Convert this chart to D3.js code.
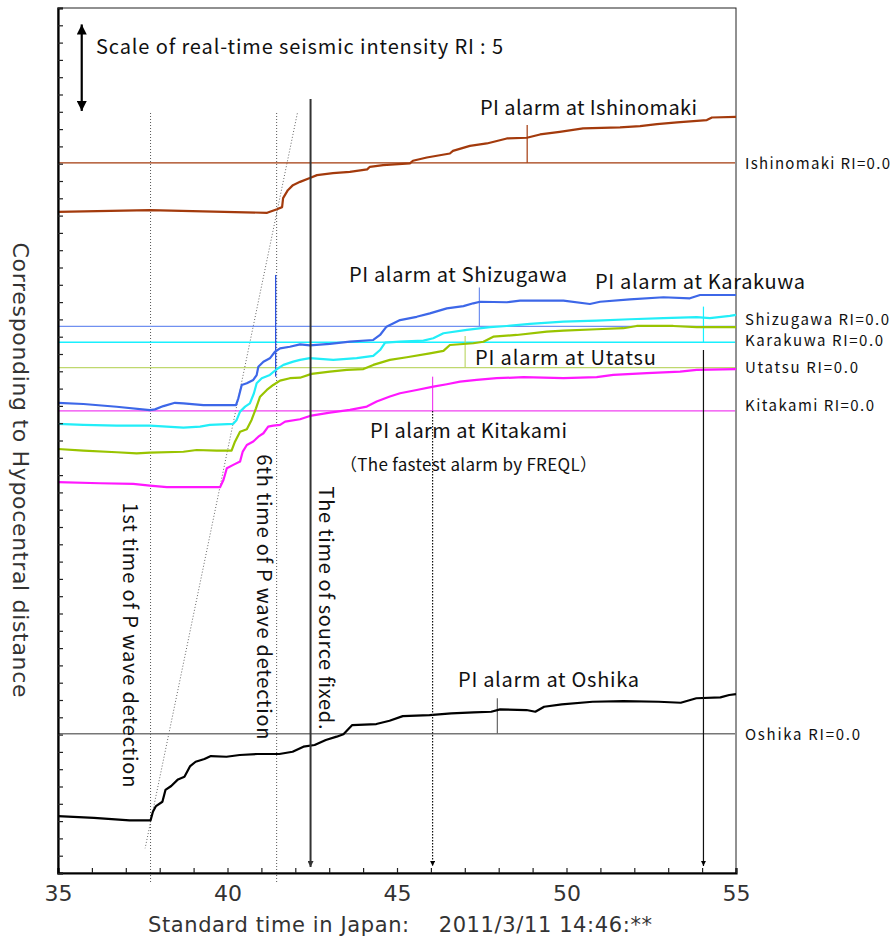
<!DOCTYPE html>
<html>
<head>
<meta charset="utf-8">
<script src="https://cdn.jsdelivr.net/npm/d3@7"></script>
<style>
  body { margin: 0; background: #fff; }
  text { font-family: "Noto Sans CJK JP", "Noto Sans", sans-serif; fill: #111; }
  .geo { font-family: "DejaVu Sans", sans-serif; fill: #333; }
</style>
</head>
<body>
<svg id="chart" width="894" height="941"></svg>
<script>
// stations, stacked by hypocentral distance (axis units = RI)
const stations   = ['Ishinomaki', 'Shizugawa', 'Karakuwa', 'Utatsu', 'Kitakami', 'Oshika'];
const baseLevels = [41.05, 31.6, 30.68, 29.21, 26.71, 8.05];
const alarmTimes = [48.84, 47.43, 54.04, 47.01, 46.05, 47.96];
const alarmTops  = [2.18, 2.25, 2.06, 1.83, 1.98, 2.05];
const curveColors = ['#a33a0c', '#3d67e8', '#22eef8', '#99c400', '#ff18ff', '#000000'];
const baseColors  = ['#a33a0c', '#7090f0', '#18f0ff', '#bfd86e', '#f040f0', '#777777'];

// real-time seismic intensity [time (s), RI]
const ishinomakiRI = [[35,-2.83],[37.71,-2.73],[41.17,-2.89],[41.46,-2.68],[41.61,-2.56],[41.64,-2.04],[41.78,-1.58],[41.93,-1.29],[42.14,-1.1],[42.43,-0.88],[42.64,-0.71],[43.11,-0.6],[43.61,-0.52],[44.12,-0.38],[44.2,-0.23],[44.59,-0.13],[45.38,-0.03],[45.47,0.12],[45.88,0.31],[46.56,0.54],[46.65,0.69],[47.15,0.98],[47.65,1.12],[48.24,1.41],[48.83,1.45],[49.22,1.64],[49.8,1.79],[50.49,1.99],[51.58,2.05],[52.17,2.12],[52.67,2.24],[53.26,2.34],[54.14,2.47],[54.29,2.62],[55,2.66]];
const shizugawaRI = [[35,-4.42],[35.75,-4.49],[36.73,-4.65],[37.71,-4.84],[37.86,-4.8],[38.11,-4.61],[38.45,-4.42],[38.7,-4.45],[39.29,-4.55],[40.25,-4.55],[40.32,-4.16],[40.42,-3.39],[40.57,-3.29],[40.76,-3.1],[40.86,-2.82],[40.91,-2.34],[41.06,-2.05],[41.25,-1.85],[41.4,-1.47],[41.55,-1.27],[41.84,-1.18],[42.14,-1.04],[42.43,-1.1],[43.02,-1.02],[43.61,-0.89],[44.3,-0.79],[44.5,-0.5],[44.69,-0.02],[45.09,0.36],[45.58,0.55],[45.97,0.75],[46.47,1.04],[46.96,1.17],[47.25,1.33],[47.45,1.42],[48.24,1.39],[48.63,1.48],[49.91,1.48],[50.69,1.29],[50.99,1.42],[51.87,1.56],[52.86,1.68],[53.64,1.62],[53.94,1.81],[55,1.81]];
const karakuwaRI = [[35,-4.72],[35.75,-4.78],[36.73,-4.82],[37.71,-4.82],[38.7,-4.94],[39.19,-4.88],[39.48,-4.78],[40.17,-4.72],[40.27,-4.49],[40.37,-4.01],[40.52,-3.72],[40.66,-3.53],[40.78,-2.95],[40.86,-2.37],[41.01,-2.08],[41.25,-1.89],[41.45,-1.56],[41.65,-1.31],[41.94,-1.12],[42.14,-1.02],[42.43,-0.92],[43.12,-1.02],[43.81,-0.92],[44.3,-0.79],[44.5,-0.45],[44.65,-0.02],[45.09,0.03],[45.78,0.09],[46.07,0.23],[46.37,0.52],[47.06,0.71],[47.74,0.87],[48.24,0.94],[48.92,1.06],[49.91,1.19],[50.89,1.25],[51.87,1.33],[52.86,1.39],[53.84,1.45],[54.23,1.39],[54.82,1.52],[55,1.58]];
const utatsuRI = [[35,-4.7],[35.75,-4.8],[36.73,-4.89],[37.32,-4.95],[37.71,-4.91],[38.7,-4.86],[39.09,-4.76],[39.68,-4.8],[40.12,-4.8],[40.22,-4.28],[40.37,-3.7],[40.57,-3.56],[40.71,-3.02],[40.84,-2.35],[40.96,-1.68],[41.16,-1.29],[41.35,-1.0],[41.55,-0.75],[41.84,-0.61],[42.14,-0.58],[42.48,-0.36],[43.02,-0.23],[43.52,-0.13],[44.01,-0.08],[44.3,0.16],[44.79,0.45],[45.29,0.6],[45.97,0.83],[46.37,0.97],[46.56,1.31],[47.25,1.41],[47.55,1.5],[47.84,1.79],[48.53,1.89],[49.42,2.08],[49.91,2.14],[50.89,2.22],[51.68,2.28],[52.07,2.41],[53.15,2.41],[53.84,2.34],[55,2.34]];
const kitakamiRI = [[35,-4.12],[36.24,-4.18],[37.22,-4.22],[37.71,-4.32],[38.21,-4.41],[39.78,-4.41],[39.88,-3.99],[39.98,-3.31],[40.17,-3.12],[40.37,-2.93],[40.45,-2.35],[40.57,-1.97],[40.76,-1.77],[40.91,-1.49],[41.06,-1.29],[41.2,-0.91],[41.35,-0.85],[41.55,-0.81],[41.7,-0.62],[42.14,-0.48],[42.43,-0.29],[43.02,-0.1],[43.61,0.06],[44.11,0.25],[44.4,0.54],[44.79,0.83],[45.09,1.02],[45.58,1.21],[46.07,1.4],[46.47,1.54],[46.86,1.69],[47.35,1.79],[47.94,1.89],[48.73,1.95],[49.91,1.89],[50.89,1.95],[51.38,2.08],[52.37,2.18],[53.35,2.27],[53.84,2.37],[55,2.41]];
const oshikaRI = [[35,-4.76],[36.06,-4.86],[37.11,-5.01],[37.73,-5.01],[37.8,-4.51],[37.89,-4.18],[38.08,-3.93],[38.17,-3.25],[38.34,-3.02],[38.54,-2.64],[38.73,-2.49],[38.9,-1.87],[39.06,-1.62],[39.32,-1.46],[39.51,-1.29],[39.97,-1.33],[40.36,-1.23],[40.88,-1.17],[41.53,-1.17],[41.92,-1.04],[42.24,-0.75],[42.57,-0.65],[42.9,-0.36],[43.22,-0.17],[43.42,-0.03],[43.68,0.5],[44.39,0.56],[44.78,0.75],[45.17,1.02],[45.96,1.08],[46.6,1.18],[47.26,1.24],[47.78,1.27],[48.04,1.41],[48.82,1.37],[49.08,1.27],[49.34,1.56],[49.86,1.7],[50.77,1.85],[51.68,1.89],[52.72,1.85],[53.37,1.79],[53.83,2.05],[54.54,2.1],[54.8,2.24],[55,2.29]];
const series = [ishinomakiRI, shizugawaRI, karakuwaRI, utatsuRI, kitakamiRI, oshikaRI];

// event times
const pWaveTimes = [37.73, 41.45];            // 1st / 6th P wave detection
const pWaveFront = [[42.06, 43.91], [37.57, 1.43]];
const sourceFixedTime = 42.45;
const shizugawaSpike = { t: 41.42, lo: -2.91, hi: 2.97 };

const xTicks = d3.range(35, 56, 1);
const xLabels = [35, 40, 45, 50, 55];

const svg = d3.select('#chart');
const x = d3.scaleLinear().domain([35, 55]).range([58, 736]);
const y = d3.scaleLinear().domain([0, 50]).range([873, 8]);

const defs = svg.append('defs');
function arrowMarker(id, color, w, h) {
  defs.append('marker')
    .attr('id', id)
    .attr('viewBox', '0 0 10 10')
    .attr('refX', 10).attr('refY', 5)
    .attr('markerUnits', 'userSpaceOnUse')
    .attr('markerWidth', w).attr('markerHeight', h)
    .attr('orient', 'auto-start-reverse')
    .append('path').attr('d', 'M0,0 L10,5 L0,10 z').attr('fill', color);
}
arrowMarker('headBig', '#000', 12, 10);
arrowMarker('headDark', '#333', 7, 6);
arrowMarker('headSmall', '#000', 7, 5);

// frame
svg.append('rect')
  .attr('x', x(35)).attr('y', y(50))
  .attr('width', x(55) - x(35)).attr('height', y(0) - y(50))
  .attr('fill', 'none').attr('stroke', '#222').attr('stroke-width', 1);

// reference dotted lines
svg.selectAll('.pwave')
  .data(pWaveTimes).enter().append('line')
  .attr('x1', d => x(d)).attr('x2', d => x(d))
  .attr('y1', y(43.93)).attr('y2', y(0) + 10)
  .attr('stroke', '#555').attr('stroke-width', 1).attr('stroke-dasharray', '1,2');

svg.append('line')
  .attr('x1', x(pWaveFront[0][0])).attr('y1', y(pWaveFront[0][1]))
  .attr('x2', x(pWaveFront[1][0])).attr('y2', y(pWaveFront[1][1]))
  .attr('stroke', '#666').attr('stroke-width', 1).attr('stroke-dasharray', '1,2');

// RI = 0 baselines
svg.selectAll('.base')
  .data(baseLevels).enter().append('line')
  .attr('x1', x(35)).attr('x2', x(55) - 1)
  .attr('y1', d => y(d)).attr('y2', d => y(d))
  .attr('stroke', (d, i) => baseColors[i])
  .attr('stroke-width', (d, i) => i === 5 ? 1.5 : 1.3);

// alarm markers
svg.selectAll('.alarm')
  .data(stations).enter().append('line')
  .attr('x1', (d, i) => x(alarmTimes[i])).attr('x2', (d, i) => x(alarmTimes[i]))
  .attr('y1', (d, i) => y(baseLevels[i])).attr('y2', (d, i) => y(baseLevels[i] + alarmTops[i]))
  .attr('stroke', (d, i) => i === 5 ? '#666' : baseColors[i])
  .attr('stroke-width', 1.2);

svg.append('line')
  .attr('x1', x(shizugawaSpike.t)).attr('x2', x(shizugawaSpike.t))
  .attr('y1', y(baseLevels[1] + shizugawaSpike.lo)).attr('y2', y(baseLevels[1] + shizugawaSpike.hi))
  .attr('stroke', '#2f55e0').attr('stroke-width', 1.3);

// RI curves
const line = d3.line();
svg.selectAll('.curve')
  .data(series).enter().append('path')
  .attr('d', (s, i) => line(s.map(p => [x(p[0]), y(baseLevels[i] + p[1])])))
  .attr('fill', 'none')
  .attr('stroke', (d, i) => curveColors[i])
  .attr('stroke-width', 2.2)
  .attr('stroke-linejoin', 'round');

// downward arrows
svg.append('line')
  .attr('x1', x(sourceFixedTime)).attr('x2', x(sourceFixedTime))
  .attr('y1', y(44.74)).attr('y2', y(0) - 6)
  .attr('stroke', '#333').attr('stroke-width', 2)
  .attr('marker-end', 'url(#headDark)');

svg.append('line')
  .attr('x1', x(alarmTimes[4])).attr('x2', x(alarmTimes[4]))
  .attr('y1', y(baseLevels[4])).attr('y2', y(0) - 7)
  .attr('stroke', '#111').attr('stroke-width', 1.2).attr('stroke-dasharray', '1.5,1.5')
  .attr('marker-end', 'url(#headSmall)');

svg.append('line')
  .attr('x1', x(alarmTimes[2])).attr('x2', x(alarmTimes[2]))
  .attr('y1', y(30.23)).attr('y2', y(0) - 7)
  .attr('stroke', '#111').attr('stroke-width', 1.2)
  .attr('marker-end', 'url(#headSmall)');

// scale arrow: RI 5
svg.append('line')
  .attr('x1', x(35.7)).attr('x2', x(35.7))
  .attr('y1', y(44.05)).attr('y2', y(49.05))
  .attr('stroke', '#000').attr('stroke-width', 2.2)
  .attr('marker-start', 'url(#headBig)').attr('marker-end', 'url(#headBig)');

// axes
const xAxisTicks = svg.append('g')
  .attr('transform', `translate(0, ${y(0)})`)
  .call(d3.axisBottom(x).tickValues(xTicks).tickSize(-5).tickFormat(''));
xAxisTicks.select('.domain').attr('stroke', '#000').attr('stroke-width', 2.2);
xAxisTicks.selectAll('.tick line').attr('stroke', '#222').attr('stroke-width', 1.2);

const xAxisLabels = svg.append('g')
  .attr('transform', `translate(0, ${y(0)})`)
  .call(d3.axisBottom(x).tickValues(xLabels).tickSize(0).tickPadding(12).tickFormat(d3.format('d')));
xAxisLabels.select('.domain').remove();
xAxisLabels.selectAll('text').attr('class', 'geo').style('font-size', '22px').attr('fill', '#222');

const yAxis = svg.append('g')
  .attr('transform', `translate(${x(35)}, 0)`)
  .call(d3.axisLeft(y).tickValues(d3.range(0, 51)).tickSize(-5).tickFormat(''));
yAxis.select('.domain').attr('stroke', '#000').attr('stroke-width', 2.2);
yAxis.selectAll('.tick line').attr('stroke', '#222').attr('stroke-width', 1.2);

// axis titles
svg.append('text')
  .attr('class', 'geo')
  .attr('transform', 'translate(20, 470) rotate(90)')
  .attr('text-anchor', 'middle').attr('dominant-baseline', 'central')
  .attr('textLength', 455)
  .style('font-size', '22px')
  .text('Corresponding to Hypocentral distance');

svg.append('text')
  .attr('class', 'geo')
  .attr('x', 148).attr('y', 925)
  .attr('dominant-baseline', 'central')
  .attr('textLength', 504)
  .style('font-size', '21px')
  .text('Standard time in Japan:\u3000 2011/3/11 14:46:**');

// annotations
const notes = [
  { text: 'Scale of real-time seismic intensity RI : 5', x: 96, y: 45, size: 20, w: 407 },
  { text: 'PI alarm at Ishinomaki', x: 480, y: 106, size: 20, w: 217 },
  { text: 'PI alarm at Shizugawa', x: 349, y: 273, size: 20, w: 218 },
  { text: 'PI alarm at Karakuwa', x: 595, y: 280, size: 20, w: 210 },
  { text: 'PI alarm at Utatsu', x: 475, y: 356, size: 20, w: 181 },
  { text: 'PI alarm at Kitakami', x: 370, y: 429, size: 20, w: 197 },
  { text: '（The fastest alarm by FREQL）', x: 340, y: 463, size: 17, w: 257 },
  { text: 'PI alarm at Oshika', x: 458, y: 678, size: 20, w: 181 }
];
svg.selectAll('.note')
  .data(notes).enter().append('text')
  .attr('x', d => d.x).attr('y', d => d.y)
  .attr('dominant-baseline', 'central')
  .attr('textLength', d => d.w)
  .style('font-size', d => d.size + 'px')
  .text(d => d.text);

const labelDy = [0, -8, -3, -1, -6, 0];
const labelW = [145, 144, 138, 113, 129, 115];
svg.selectAll('.rilabel')
  .data(stations).enter().append('text')
  .attr('x', 745)
  .attr('y', (d, i) => y(baseLevels[i]) + labelDy[i])
  .attr('dominant-baseline', 'central')
  .attr('textLength', (d, i) => labelW[i])
  .style('font-size', '15px')
  .text(d => d + ' RI=0.0');

const vnotes = [
  { text: '1st time of P wave detection', x: 131, y: 645, w: 285 },
  { text: '6th time of P wave detection', x: 265, y: 597, w: 285 },
  { text: 'The time of source fixed.', x: 327, y: 608, w: 243 }
];
svg.selectAll('.vnote')
  .data(vnotes).enter().append('text')
  .attr('transform', d => `translate(${d.x}, ${d.y}) rotate(90)`)
  .attr('text-anchor', 'middle').attr('dominant-baseline', 'central')
  .attr('textLength', d => d.w)
  .style('font-size', '20px')
  .text(d => d.text);
</script>
</body>
</html>
